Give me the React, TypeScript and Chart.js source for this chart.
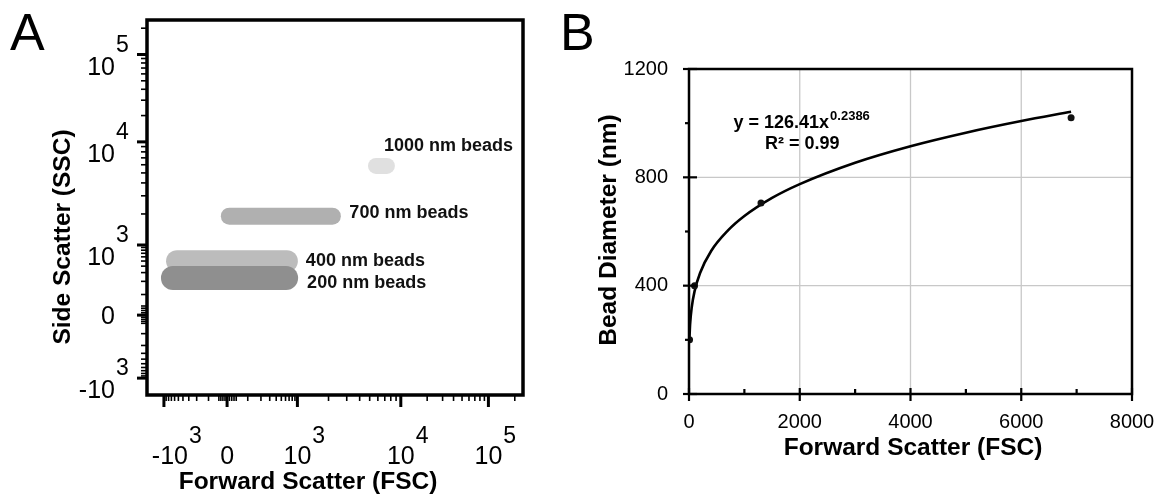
import React, { useEffect, useRef } from "react";
import { Chart, registerables } from "chart.js";

Chart.register(...registerables);

// ---------------- Panel A data (display channel units 0–1000 on biexponential axes) ----------------
const beadNames = ["200 nm beads", "400 nm beads", "700 nm beads", "1000 nm beads"];
const beadFscStart = [69, 80, 219, 609];
const beadFscEnd = [370, 372, 493, 638];
const beadSsc = [312, 357, 477, 611];

const axisMajorValues = [-1000, 0, 1000, 10000, 100000];
const axisMajorBase = ["-10", "0", "10", "10", "10"];
const axisMajorExp = ["3", "", "3", "4", "5"];
const axisLinearMinor = [10, 20, 30, 40, 100, 200, 300, 400, 500, 600, 700, 800, 900];
const axisLogMultipliers = [2, 3, 4, 5, 6, 7, 8, 9];
const axisLogDecades = [1000, 10000, 100000];

// ---------------- Panel B data ----------------
const fscValues = [10, 100, 1300, 6900];
const diameterValues = [200, 400, 705, 1020];
const trendFsc = [7, 20, 50, 100, 200, 400, 700, 1000, 1500, 2000, 3000, 4000, 5000, 6000, 6900];
const trendDiameter = [201, 258, 321, 379, 447, 528, 603, 657, 724, 775, 854, 915, 965, 1008, 1042];
const bXTicks = [0, 2000, 4000, 6000, 8000];
const bXMinor = [1000, 3000, 5000, 7000];
const bYTicks = [0, 400, 800, 1200];
const bYMinor = [200, 600, 1000];
const bXGrid = [2000, 4000, 6000];
const bYGrid = [400, 800];
const trendEquation = "y = 126.41x";
const trendExponent = "0.2386";
const trendR2 = "R² = 0.99";

// ---------------- styles ----------------
const FONT = '"Liberation Sans", Arial, Helvetica, sans-serif';
const beadColors = ["#8f8f8f", "#bcbcbc", "#b0b0b0", "#e0e0e0"];
const beadWidths = [24, 22, 17, 16];
const beadLabelDx = [21, 19, 17, -3];
const beadLabelDy = [5, 0, -3, -20];
const xLabelDx = [6, 0, 0, 0, 0];

// biexponential display transform for axis ticks (value -> channel 0..1000)
function biex(v: number): number {
  if (v >= 10000) return 675 + 233 * Math.log10(v / 10000);
  if (v >= 1000) return 400 + 275 * Math.log10(v / 1000);
  const n = Math.asinh(Math.abs(v) / 100) / Math.asinh(10);
  return v >= 0 ? 213 + 187 * n : 213 - 168 * n;
}

function line(ctx: CanvasRenderingContext2D, x1: number, y1: number, x2: number, y2: number) {
  ctx.beginPath();
  ctx.moveTo(x1, y1);
  ctx.lineTo(x2, y2);
  ctx.stroke();
}

const panelAPlugin = {
  id: "panelA",
  afterDatasetsDraw(chart: any) {
    const ctx: CanvasRenderingContext2D = chart.ctx;
    const ca = chart.chartArea;
    const xs = chart.scales.x;
    const ys = chart.scales.y;
    ctx.save();
    ctx.strokeStyle = "#000";
    ctx.fillStyle = "#000";

    // minor ticks
    const minorVals: number[] = [...axisLinearMinor, ...axisLinearMinor.map((v) => -v)];
    axisLogDecades.forEach((d) => axisLogMultipliers.forEach((m) => minorVals.push(d * m)));
    ctx.lineWidth = 1.6;
    for (const v of minorVals) {
      const c = biex(v);
      if (c < 0 || c > 1000) continue;
      const px = xs.getPixelForValue(c);
      line(ctx, px, ca.bottom, px, ca.bottom + 6);
      const py = ys.getPixelForValue(c);
      line(ctx, ca.left - 6, py, ca.left, py);
    }
    // major ticks
    ctx.lineWidth = 3;
    for (const v of axisMajorValues) {
      const c = biex(v);
      const px = xs.getPixelForValue(c);
      line(ctx, px, ca.bottom, px, ca.bottom + 12);
      const py = ys.getPixelForValue(c);
      line(ctx, ca.left - 10, py, ca.left, py);
    }
    // box
    ctx.lineWidth = 3.5;
    ctx.strokeRect(ca.left, ca.top, ca.right - ca.left, ca.bottom - ca.top);

    // x tick labels
    axisMajorValues.forEach((v, i) => {
      const px = xs.getPixelForValue(biex(v)) + xLabelDx[i];
      ctx.font = `25px ${FONT}`;
      ctx.textAlign = "center";
      ctx.textBaseline = "alphabetic";
      ctx.fillText(axisMajorBase[i], px, ca.bottom + 69);
      if (axisMajorExp[i]) {
        const w = ctx.measureText(axisMajorBase[i]).width;
        ctx.font = `23px ${FONT}`;
        ctx.textAlign = "left";
        ctx.fillText(axisMajorExp[i], px + w / 2 + 1, ca.bottom + 48);
      }
    });
    // y tick labels
    axisMajorValues.forEach((v, i) => {
      const py = ys.getPixelForValue(biex(v));
      const rx = ca.left - 32;
      ctx.font = `25px ${FONT}`;
      ctx.textAlign = "right";
      if (axisMajorExp[i]) {
        ctx.textBaseline = "alphabetic";
        ctx.fillText(axisMajorBase[i], rx, py + 20);
        ctx.font = `23px ${FONT}`;
        ctx.textAlign = "left";
        ctx.fillText(axisMajorExp[i], rx + 1, py - 3);
      } else {
        ctx.textBaseline = "middle";
        ctx.fillText(axisMajorBase[i], rx, py + 2);
      }
    });

    // bead labels
    ctx.font = `bold 18px ${FONT}`;
    ctx.textAlign = "left";
    ctx.textBaseline = "middle";
    ctx.fillStyle = "#111";
    beadNames.forEach((name, i) => {
      const px = xs.getPixelForValue(beadFscEnd[i]) + beadLabelDx[i];
      const py = ys.getPixelForValue(beadSsc[i]) + beadLabelDy[i];
      ctx.fillText(name, px, py);
    });

    // axis titles
    ctx.fillStyle = "#000";
    ctx.font = `bold 24.5px ${FONT}`;
    ctx.textAlign = "center";
    ctx.textBaseline = "middle";
    ctx.fillText("Forward Scatter (FSC)", 308, ca.bottom + 87);
    ctx.save();
    ctx.translate(63, 237);
    ctx.rotate(-Math.PI / 2);
    ctx.fillText("Side Scatter (SSC)", 0, 0);
    ctx.restore();

    // panel letter
    ctx.font = `52px ${FONT}`;
    ctx.textAlign = "left";
    ctx.textBaseline = "alphabetic";
    ctx.fillText("A", 10, 50);
    ctx.restore();
  },
};

const panelBPlugin = {
  id: "panelB",
  beforeDatasetsDraw(chart: any) {
    const ctx: CanvasRenderingContext2D = chart.ctx;
    const ca = chart.chartArea;
    const xs = chart.scales.x;
    const ys = chart.scales.y;
    ctx.save();
    ctx.strokeStyle = "#c8c8c8";
    ctx.lineWidth = 1.3;
    for (const v of bXGrid) {
      const px = xs.getPixelForValue(v);
      line(ctx, px, ca.top, px, ca.bottom);
    }
    for (const v of bYGrid) {
      const py = ys.getPixelForValue(v);
      line(ctx, ca.left, py, ca.right, py);
    }
    ctx.restore();
  },
  afterDatasetsDraw(chart: any) {
    const ctx: CanvasRenderingContext2D = chart.ctx;
    const ca = chart.chartArea;
    const xs = chart.scales.x;
    const ys = chart.scales.y;
    ctx.save();
    ctx.strokeStyle = "#000";
    ctx.fillStyle = "#000";
    ctx.lineWidth = 2.5;
    ctx.strokeRect(ca.left, ca.top, ca.right - ca.left, ca.bottom - ca.top);

    ctx.lineWidth = 2.2;
    for (const v of bXTicks) {
      const px = xs.getPixelForValue(v);
      line(ctx, px, ca.bottom - 6, px, ca.bottom + 7);
    }
    for (const v of bXMinor) {
      const px = xs.getPixelForValue(v);
      line(ctx, px, ca.bottom - 5, px, ca.bottom);
    }
    for (const v of bYTicks) {
      const py = ys.getPixelForValue(v);
      line(ctx, ca.left - 6, py, ca.left + 8, py);
    }
    for (const v of bYMinor) {
      const py = ys.getPixelForValue(v);
      line(ctx, ca.left - 4, py, ca.left + 1, py);
    }

    ctx.font = `20px ${FONT}`;
    ctx.textBaseline = "middle";
    ctx.textAlign = "center";
    for (const v of bXTicks) {
      ctx.fillText(String(v), xs.getPixelForValue(v), ca.bottom + 28);
    }
    ctx.textAlign = "right";
    for (const v of bYTicks) {
      ctx.fillText(String(v), ca.left - 21, ys.getPixelForValue(v));
    }

    // titles
    ctx.font = `bold 24.5px ${FONT}`;
    ctx.textAlign = "center";
    ctx.fillText("Forward Scatter (FSC)", (ca.left + ca.right) / 2 + 2.5, ca.bottom + 54);
    ctx.save();
    ctx.translate(ca.left - 80, 230);
    ctx.rotate(-Math.PI / 2);
    ctx.fillText("Bead Diameter (nm)", 0, 0);
    ctx.restore();

    // equation
    ctx.font = `bold 18px ${FONT}`;
    ctx.textAlign = "left";
    ctx.textBaseline = "alphabetic";
    const ex = ca.left + 44.5;
    const ey = ca.top + 59;
    ctx.fillText(trendEquation, ex, ey);
    const w = ctx.measureText(trendEquation).width;
    ctx.font = `bold 13px ${FONT}`;
    ctx.fillText(trendExponent, ex + w + 1, ey - 8);
    ctx.font = `bold 18px ${FONT}`;
    ctx.fillText(trendR2, ca.left + 76, ey + 21);

    // panel letter
    ctx.font = `52px ${FONT}`;
    ctx.fillText("B", 10, 50);
    ctx.restore();
  },
};

export default function App() {
  const refA = useRef<HTMLCanvasElement>(null);
  const refB = useRef<HTMLCanvasElement>(null);

  useEffect(() => {
    const chartA = new Chart(refA.current!, {
      type: "scatter",
      data: {
        datasets: beadNames.map((name, i) => ({
          label: name,
          data: [
            { x: beadFscStart[i], y: beadSsc[i] },
            { x: beadFscEnd[i], y: beadSsc[i] },
          ],
          showLine: true,
          borderColor: beadColors[i],
          backgroundColor: beadColors[i],
          borderWidth: beadWidths[i],
          borderCapStyle: "round",
          pointRadius: 0,
          fill: false,
        })),
      },
      options: {
        animation: false,
        responsive: false,
        events: [],
        layout: { padding: { left: 147, top: 20, right: 27, bottom: 99 } },
        plugins: { legend: { display: false }, tooltip: { enabled: false } },
        scales: {
          x: { type: "linear", min: 0, max: 1000, display: false },
          y: { type: "linear", min: 0, max: 1000, display: false },
        },
      },
      plugins: [panelAPlugin],
    } as any);

    const chartB = new Chart(refB.current!, {
      type: "scatter",
      data: {
        datasets: [
          {
            label: "Beads",
            data: fscValues.map((x, i) => ({ x, y: diameterValues[i] })),
            showLine: false,
            pointRadius: 3.5,
            pointBackgroundColor: "#111",
            pointBorderWidth: 0,
          },
          {
            label: "Power fit",
            data: trendFsc.map((x, i) => ({ x, y: trendDiameter[i] })),
            showLine: true,
            borderColor: "#000",
            borderWidth: 2.6,
            pointRadius: 0,
            cubicInterpolationMode: "monotone",
            fill: false,
          },
        ],
      },
      options: {
        animation: false,
        responsive: false,
        events: [],
        layout: { padding: { left: 139, top: 69, right: 35, bottom: 100 } },
        plugins: { legend: { display: false }, tooltip: { enabled: false } },
        scales: {
          x: { type: "linear", min: 0, max: 8000, display: false },
          y: { type: "linear", min: 0, max: 1200, display: false },
        },
      },
      plugins: [panelBPlugin],
    } as any);

    return () => {
      chartA.destroy();
      chartB.destroy();
    };
  }, []);

  return (
    <div style={{ position: "absolute", left: 0, top: 0, width: 1167, height: 494, background: "#fff" }}>
      <canvas ref={refA} width={550} height={494} style={{ position: "absolute", left: 0, top: 0 }} />
      <canvas ref={refB} width={617} height={494} style={{ position: "absolute", left: 550, top: 0 }} />
    </div>
  );
}
